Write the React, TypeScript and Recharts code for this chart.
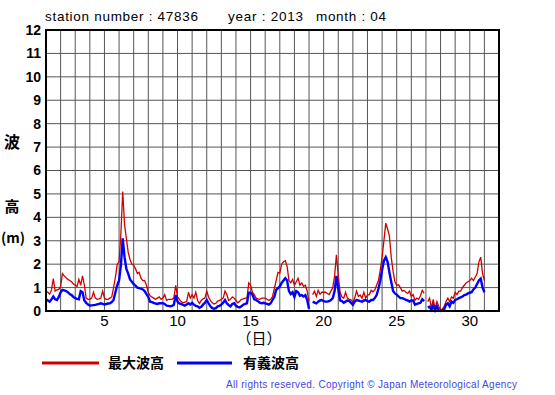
import { CartesianGrid, Line, LineChart, XAxis, YAxis } from "recharts";

// 3-hourly readings from Apr 1 00:00 (day 1.0) to Apr 30 24:00 (day 31.0), one row per day
const STEP = 0.125;
const maxWave = [
  0.85, 0.8, 0.72, 0.9, 1.38, 0.85, 0.9, 0.92,
  1.05, 1.6, 1.5, 1.42, 1.35, 1.3, 1.25, 1.15,
  1.1, 1.05, 1.35, 1.1, 1.5, 1.1, 0.55, 0.5,
  0.5, 0.55, 0.8, 0.55, 0.5, 0.52, 0.55, 0.85,
  0.55, 0.5, 0.5, 0.55, 0.6, 1.0, 1.45, 2.0,
  2.1, 3.3, 5.1, 3.7, 3.1, 2.5, 2.2, 2.0,
  1.95, 1.8, 1.6, 1.65, 1.4, 1.3, 1.3, 1.1,
  0.8, 0.65, 0.6, 0.55, 0.5, 0.55, 0.6, 0.5,
  0.55, 0.7, 0.45, 0.5, 0.5, 0.5, 0.55, 1.1,
  0.6, 0.5, 0.4, 0.35, 0.38, 0.4, 0.8, 0.55,
  0.7, 0.55, 0.8, 0.45, 0.32, 0.45, 0.52, 0.55,
  0.85, 0.6, 0.45, 0.35, 0.3, 0.33, 0.42, 0.45,
  0.5, 0.55, 0.85, 0.7, 0.45, 0.5, 0.6, 0.55,
  0.45, 0.35, 0.42, 0.5, 0.52, 0.55, 0.55, 1.2,
  1.1, 0.8, 0.7, 0.55, 0.52, 0.5, 0.55, 0.55,
  0.55, 0.5, 0.45, 0.5, 0.62, 0.95, 1.3, 1.65,
  1.62, 2.0, 2.1, 2.15, 1.9, 1.3, 1.2, 1.35,
  1.1, 1.25, 1.4, 1.1, 1.2, 1.05, 1.1, 0.85,
  0.4, null, 0.7, 0.85, 0.62, 0.88, 0.72, 0.8,
  0.8, 0.8, 0.75, 0.7, 0.85, 1.0, 1.5, 2.4,
  1.5, 0.8, 0.6, 0.55, 0.8, 0.55, 0.5, 0.48,
  0.38, 0.55, 0.85, 0.62, 0.68, 0.55, 0.8, 0.55,
  0.68, 0.7, 0.88, 0.82, 0.9, 1.1, 1.3, 1.75,
  2.3, 3.0, 3.75, 3.5, 3.2, 2.3, 1.7, 1.25,
  1.1, 1.12, 1.0, 0.85, 0.88, 0.8, 0.75, 0.85,
  0.62, 0.7, 0.45, 0.55, 0.5, 0.65, 0.88, 0.75,
  null, 0.4, 0.55, 0.12, 0.5, 0.1, 0.4, 0.2,
  0.05, 0.08, 0.2, 0.4, 0.55, 0.4, 0.6, 0.55,
  0.8, 0.7, 0.85, 0.85, 1.0, 1.1, 1.2, 1.25,
  1.3, 1.4, 1.3, 1.45, 1.6, 2.1, 2.3, 1.6,
  1.3,
];
const sigWave = [
  0.5, 0.45, 0.4, 0.5, 0.62, 0.5, 0.47, 0.6,
  0.8, 0.9, 0.88, 0.85, 0.8, 0.72, 0.68, 0.6,
  0.55, 0.52, 0.5, 0.85, 0.8, 0.45, 0.35, 0.28,
  0.23, 0.24, 0.25, 0.26, 0.28, 0.3, 0.33, 0.3,
  0.28, 0.3, 0.32, 0.33, 0.38, 0.47, 0.8, 1.1,
  1.3, 1.95, 3.1, 2.3, 1.8, 1.6, 1.35, 1.25,
  1.15, 1.08, 1.0, 0.98, 0.95, 0.92, 0.85, 0.72,
  0.6, 0.4, 0.38, 0.35, 0.32, 0.3, 0.33, 0.33,
  0.33, 0.3, 0.23, 0.22, 0.2, 0.22, 0.27, 0.68,
  0.4, 0.32, 0.3, 0.26, 0.23, 0.28, 0.33, 0.28,
  0.35, 0.27, 0.22, 0.2, 0.14, 0.18, 0.27, 0.35,
  0.47, 0.33, 0.2, 0.12, 0.1, 0.12, 0.2, 0.22,
  0.27, 0.35, 0.47, 0.33, 0.25, 0.2, 0.3, 0.33,
  0.22, 0.18, 0.15, 0.2, 0.27, 0.3, 0.33, 0.78,
  0.78, 0.7, 0.5, 0.47, 0.42, 0.36, 0.33, 0.35,
  0.33, 0.3, 0.27, 0.33, 0.47, 0.6, 0.9, 0.98,
  1.05, 1.2, 1.3, 1.4, 1.3, 0.85, 0.72, 0.8,
  0.6, 0.85, 0.8, 0.65, 0.68, 0.62, 0.68, 0.47,
  0.1, null, 0.4, 0.36, 0.33, 0.4, 0.45, 0.47,
  0.42, 0.4, 0.4, 0.42, 0.47, 0.55, 0.85, 1.5,
  0.95, 0.45, 0.42, 0.35, 0.4, 0.45, 0.42, 0.35,
  0.27, 0.4, 0.47, 0.45, 0.42, 0.4, 0.45, 0.47,
  0.42, 0.4, 0.47, 0.47, 0.55, 0.68, 0.95, 1.3,
  1.75, 2.15, 2.3, 2.1, 1.65, 1.25, 0.85, 0.75,
  0.7, 0.62, 0.55, 0.55, 0.52, 0.47, 0.45, 0.4,
  0.45, 0.45, 0.27, 0.3, 0.33, 0.35, 0.5, 0.42,
  null, 0.15, 0.18, 0.05, 0.22, 0.03, 0.2, 0.03,
  0.0, 0.02, 0.08, 0.27, 0.33, 0.2, 0.4, 0.35,
  0.47, 0.5, 0.55, 0.58, 0.62, 0.68, 0.7, 0.75,
  0.78, 0.8, 0.92, 1.0, 1.15, 1.3, 1.38, 1.0,
  0.8,
];
const dayTicks = Array.from({ length: 32 }, (_, i) => i + 1);
const heightTicks = Array.from({ length: 13 }, (_, i) => i);

const data = maxWave.map((v, i) => ({ t: 1 + i * STEP, max: v, sig: sigWave[i] }));

const SANS = "'Liberation Sans', Arial, sans-serif";
const CJK = "'Noto Sans CJK JP', sans-serif";

export default function App() {
  return (
    <div style={{ position: "absolute", left: 0, top: 0, width: 555, height: 395, background: "#fff", fontFamily: SANS }}>
      <LineChart width={555} height={395} data={data} margin={{ top: 30, right: 56, bottom: 54, left: 0 }}>
        <CartesianGrid stroke="#555" strokeWidth={1} />
        <XAxis
          dataKey="t"
          type="number"
          domain={[1, 32]}
          ticks={dayTicks}
          interval={0}
          tickFormatter={(v) => (v % 5 === 0 ? String(v) : "")}
          axisLine={false}
          tickLine={false}
          tickSize={2}
          tickMargin={2}
          height={30}
          tick={{ fontSize: 15, fill: "#000" }}
        />
        <YAxis
          type="number"
          domain={[0, 12]}
          ticks={heightTicks}
          interval={0}
          axisLine={false}
          tickLine={false}
          tickSize={3}
          tickMargin={2}
          width={46}
          tick={{ fontSize: 14, fontWeight: "bold", fill: "#000" }}
        />
        <Line dataKey="max" type="linear" stroke="#d00000" strokeWidth={1.3} dot={false} connectNulls={false} isAnimationActive={false} />
        <Line dataKey="sig" type="linear" stroke="#0000ff" strokeWidth={2.4} dot={false} connectNulls={false} isAnimationActive={false} />
      </LineChart>
      <svg width={555} height={395} style={{ position: "absolute", left: 0, top: 0, pointerEvents: "none" }}>
        <rect x={46} y={30} width={453} height={281} fill="none" stroke="#000" strokeWidth={2} />
        <g fontFamily={SANS} fontSize={13.5} fill="#000" lengthAdjust="spacing">
          <text x={45} y={21} textLength={153}>station number : 47836</text>
          <text x={228} y={21} textLength={75}>year : 2013</text>
          <text x={316} y={21} textLength={70}>month : 04</text>
        </g>
        <g fontFamily={CJK} fontWeight="bold" fill="#000" textAnchor="middle">
          <text x={12} y={148} fontSize={16}>波</text>
          <text x={12} y={212} fontSize={15}>高</text>
          <text x={259} y={344} fontSize={15} fontWeight="normal">（日）</text>
        </g>
        <text x={1} y={243} fontFamily={CJK} fontWeight="bold" fontSize={14} fill="#000" textLength={24} lengthAdjust="spacing">
          (m)
        </text>
        <line x1={42} y1={363} x2={99} y2={363} stroke="#cc0000" strokeWidth={3} />
        <line x1={177} y1={363} x2={232} y2={363} stroke="#0000ff" strokeWidth={3} />
        <g fontFamily={CJK} fontWeight="bold" fontSize={14} fill="#000">
          <text x={108} y={368}>最大波高</text>
          <text x={243} y={368}>有義波高</text>
        </g>
        <text x={226} y={388} fontFamily={SANS} fontSize={10} fill="#4646e6" textLength={291} lengthAdjust="spacing">
          All rights reserved. Copyright © Japan Meteorological Agency
        </text>
      </svg>
    </div>
  );
}
